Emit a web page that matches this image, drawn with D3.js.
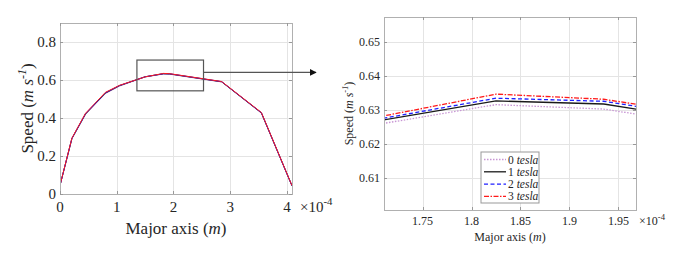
<!doctype html>
<html>
<head>
<script src="https://d3js.org/d3.v7.min.js"></script>
<style>
body { margin:0; background:#fff; }
svg, svg text { font-family:"Liberation Serif","Times New Roman",Times,serif; }
.grid line { stroke:#e4e4e4; stroke-width:1; shape-rendering:crispEdges; }
.frame { fill:none; stroke:#b0b0b0; stroke-width:1; shape-rendering:crispEdges; }
.tk { fill:#262626; }
</style>
</head>
<body>
<script>
// major axis positions (x 1e-4 m)
var majorAxis = [0, 0.21, 0.45, 0.8, 1.05, 1.5, 1.825, 1.935, 2.85, 3.55, 4.09];
// speed (m/s) for each magnetic field
var speed0T = [0.044, 0.290, 0.418, 0.528, 0.568, 0.6160, 0.6316, 0.6303, 0.5895, 0.425, 0.042];
var speed1T = [0.045, 0.292, 0.421, 0.531, 0.570, 0.6169, 0.6327, 0.6318, 0.5905, 0.427, 0.043];
var speed2T = [0.045, 0.293, 0.423, 0.533, 0.571, 0.6168, 0.6335, 0.6326, 0.5915, 0.428, 0.043];
var speed3T = [0.046, 0.294, 0.425, 0.535, 0.572, 0.6165, 0.6347, 0.6332, 0.5920, 0.429, 0.044];
var seriesNames = ["0", "1", "2", "3"];
var seriesColors = ["#c896d4", "#1a1a1a", "#1f1fff", "#ff1a1a"];
var seriesDash = ["1.5,1.5", null, "4,2.5", "5,1.5,1.5,1.5"];

var leftXTicks = [0, 1, 2, 3, 4];
var leftYTicks = [0, 0.2, 0.4, 0.6, 0.8];
var rightXTicks = [1.75, 1.8, 1.85, 1.9, 1.95];
var rightYTicks = [0.61, 0.62, 0.63, 0.64, 0.65];

var allSpeeds = [speed0T, speed1T, speed2T, speed3T];
var series = allSpeeds.map(function(s, i){
  return { name: seriesNames[i], pts: majorAxis.map(function(x, j){ return [x, s[j]]; }) };
});

var svg = d3.select("body").append("svg").attr("width", 690).attr("height", 260)
  .attr("font-family", "Liberation Serif, Times New Roman, serif");
var defs = svg.append("defs");

function panel(opt) {
  var x = d3.scaleLinear().domain(opt.xd).range([opt.x0, opt.x1]);
  var y = d3.scaleLinear().domain(opt.yd).range([opt.y0, opt.y1]);
  var g = svg.append("g");

  // grid
  var grid = g.append("g").attr("class", "grid");
  grid.selectAll(".gx").data(opt.xt).enter().append("line")
    .attr("x1", d => Math.round(x(d)) + 0.5).attr("x2", d => Math.round(x(d)) + 0.5)
    .attr("y1", opt.y0).attr("y2", opt.y1);
  grid.selectAll(".gy").data(opt.yt).enter().append("line")
    .attr("y1", d => Math.round(y(d)) + 0.5).attr("y2", d => Math.round(y(d)) + 0.5)
    .attr("x1", opt.x0).attr("x2", opt.x1);

  // lines
  defs.append("clipPath").attr("id", opt.id).append("rect")
    .attr("x", opt.x0).attr("y", opt.y1).attr("width", opt.x1 - opt.x0).attr("height", opt.y0 - opt.y1);
  var line = d3.line().x(d => x(d[0])).y(d => y(d[1]));
  g.append("g").attr("clip-path", "url(#" + opt.id + ")")
    .selectAll("path").data(series).enter().append("path")
    .attr("d", d => line(d.pts))
    .attr("fill", "none")
    .attr("stroke", (d, i) => seriesColors[i])
    .attr("stroke-width", opt.lw)
    .attr("stroke-dasharray", (d, i) => opt.dashes ? seriesDash[i] : null);

  // frame
  g.append("rect").attr("class", "frame")
    .attr("x", opt.x0 + 0.5).attr("y", opt.y1 + 0.5)
    .attr("width", opt.x1 - opt.x0).attr("height", opt.y0 - opt.y1);

  // tick marks inside
  var tl = 3;
  g.selectAll(".tmx").data(opt.xt).enter().append("path")
    .attr("d", d => { var px = Math.round(x(d)) + 0.5; return "M" + px + "," + opt.y0 + "v" + (-tl) + "M" + px + "," + opt.y1 + "v" + tl; })
    .attr("stroke", "#999").attr("fill", "none");
  g.selectAll(".tmy").data(opt.yt).enter().append("path")
    .attr("d", d => { var py = Math.round(y(d)) + 0.5; return "M" + opt.x0 + "," + py + "h" + tl + "M" + opt.x1 + "," + py + "h" + (-tl); })
    .attr("stroke", "#999").attr("fill", "none");

  // tick labels
  g.selectAll(".lx").data(opt.xt).enter().append("text").attr("class", "tk")
    .attr("x", d => x(d)).attr("y", opt.y0 + opt.fs + 3)
    .attr("text-anchor", "middle").style("font-size", opt.fs + "px")
    .text(d => opt.xf(d));
  g.selectAll(".ly").data(opt.yt).enter().append("text").attr("class", "tk")
    .attr("x", opt.x0 - 4).attr("y", d => y(d)).attr("dy", "0.35em")
    .attr("text-anchor", "end").style("font-size", opt.fs + "px")
    .text(d => opt.yf(d));

  // x10^-4
  var ex = g.append("text").attr("class", "tk").attr("x", opt.x1 + opt.expDx).attr("y", opt.y0 + opt.fs + 3)
    .style("font-size", opt.fs + "px");
  ex.append("tspan").text("\u00d710");
  ex.append("tspan").attr("dy", -opt.fs * 0.45).style("font-size", (opt.fs * 0.72) + "px").text("-4");

  // axis labels
  var xl = g.append("text").attr("class", "tk").attr("x", (opt.x0 + opt.x1) / 2).attr("y", opt.xly)
    .attr("text-anchor", "middle").style("font-size", opt.lfs + "px");
  xl.append("tspan").text("Major axis (");
  xl.append("tspan").style("font-style", "italic").text("m");
  xl.append("tspan").text(")");

  var yl = g.append("text").attr("class", "tk")
    .attr("transform", "translate(" + opt.ylx + "," + ((opt.y0 + opt.y1) / 2) + ") rotate(-90)")
    .attr("text-anchor", "middle").style("font-size", opt.lfs + "px");
  yl.append("tspan").text("Speed (");
  yl.append("tspan").style("font-style", "italic").text("m s");
  yl.append("tspan").attr("dy", -opt.lfs * 0.4).style("font-size", (opt.lfs * 0.7) + "px").style("font-style", "italic").text("-1");
  yl.append("tspan").attr("dy", opt.lfs * 0.4).text(")");

  return { x: x, y: y, g: g };
}

var left = panel({
  id: "clipL", x0: 60, x1: 292, y0: 194, y1: 23,
  xd: [0, 4.09], yd: [0, 0.9], xt: leftXTicks, yt: leftYTicks,
  xf: d3.format("d"), yf: d => d === 0 ? "0" : d3.format(".1f")(d),
  fs: 15, lfs: 17, lw: 1, dashes: false, expDx: 8, xly: 234, ylx: 33
});

var right = panel({
  id: "clipR", x0: 384, x1: 636, y0: 210, y1: 17,
  xd: [1.7106, 1.968], yd: [0.6006, 0.6574], xt: rightXTicks, yt: rightYTicks,
  xf: d => d3.format(".2~f")(d), yf: d3.format(".2f"),
  fs: 12, lfs: 12, lw: 1.3, dashes: true, expDx: 3, xly: 241, ylx: 353
});

// zoom box in left panel
var zb = { x: [1.356, 2.53], y: [0.543, 0.705] };
left.g.append("rect")
  .attr("x", left.x(zb.x[0])).attr("y", left.y(zb.y[1]))
  .attr("width", left.x(zb.x[1]) - left.x(zb.x[0]))
  .attr("height", left.y(zb.y[0]) - left.y(zb.y[1]))
  .attr("fill", "none").attr("stroke", "#555").attr("stroke-width", 1.2);

defs.append("marker").attr("id", "arr").attr("viewBox", "0 0 10 10")
  .attr("refX", 9).attr("refY", 5).attr("markerWidth", 7).attr("markerHeight", 7)
  .attr("orient", "auto").attr("markerUnits", "userSpaceOnUse")
  .append("path").attr("d", "M0,0L10,5L0,10z").attr("fill", "#111");
var ay = left.y(0.64);
svg.append("line").attr("x1", left.x(zb.x[1])).attr("x2", 316).attr("y1", ay).attr("y2", ay)
  .attr("stroke", "#555").attr("stroke-width", 1.2).attr("marker-end", "url(#arr)");

// legend
var lg = svg.append("g").attr("transform", "translate(481,152)");
lg.append("rect").attr("width", 58).attr("height", 51).attr("fill", "#fff").attr("stroke", "#999");
var rows = lg.selectAll(".row").data(seriesNames).enter().append("g")
  .attr("transform", (d, i) => "translate(0," + (7.5 + i * 12.3) + ")");
rows.append("line").attr("x1", 3).attr("x2", 25).attr("y1", 0).attr("y2", 0)
  .attr("stroke", (d, i) => seriesColors[i]).attr("stroke-width", 1.3)
  .attr("stroke-dasharray", (d, i) => seriesDash[i]);
var lt = rows.append("text").attr("class", "tk").attr("x", 27).attr("dy", "0.35em").style("font-size", "11.5px");
lt.append("tspan").text(d => d + " ");
lt.append("tspan").style("font-style", "italic").text("tesla");
</script>
</body>
</html>
